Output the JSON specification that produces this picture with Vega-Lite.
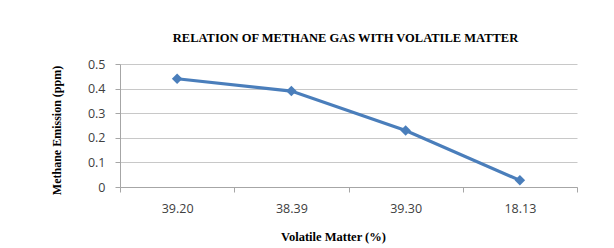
{
  "$schema": "https://vega.github.io/schema/vega-lite/v6.json",
  "width": 457,
  "height": 123,
  "autosize": {"type": "none"},
  "padding": {"left": 120, "top": 64, "right": 37, "bottom": 61},
  "background": "white",
  "title": {
    "text": "RELATION  OF METHANE  GAS WITH VOLATILE  MATTER",
    "font": "Liberation Serif",
    "fontSize": 12.5,
    "fontWeight": "bold",
    "color": "#000000",
    "anchor": "middle",
    "offset": 14,
    "dx": -3
  },
  "config": {
    "view": {"stroke": null},
    "axis": {
      "labelFont": "Open Sans",
      "labelFontSize": 12.5,
      "labelColor": "#404040",
      "titleFont": "Liberation Serif",
      "titleFontWeight": "bold",
      "titleColor": "#000000",
      "domainColor": "#a6a6a6",
      "tickColor": "#a6a6a6",
      "gridColor": "#c8c8c8"
    }
  },
  "data": {
    "values": [
      {"vm": "39.20", "methane": 0.44, "order": 1},
      {"vm": "38.39", "methane": 0.39, "order": 2},
      {"vm": "39.30", "methane": 0.23, "order": 3},
      {"vm": "18.13", "methane": 0.027, "order": 4}
    ]
  },
  "encoding": {
    "x": {
      "field": "vm",
      "type": "nominal",
      "sort": {"field": "order"},
      "scale": {"paddingInner": 0, "paddingOuter": 0},
      "axis": {
        "title": "Volatile Matter (%)",
        "titleFontSize": 12.5,
        "titlePadding": 16,
        "titleX": 213,
        "labelAngle": 0,
        "labelPadding": 10,
        "tickBand": "extent",
        "tickSize": 5,
        "grid": false
      }
    },
    "y": {
      "field": "methane",
      "type": "quantitative",
      "scale": {"domain": [0, 0.5]},
      "axis": {
        "title": "Methane Emission (ppm)",
        "titleFontSize": 12,
        "titlePadding": 24,
        "titleY": 66,
        "values": [0, 0.1, 0.2, 0.3, 0.4, 0.5],
        "format": "~g",
        "tickSize": 5,
        "labelPadding": 10,
        "domain": true
      }
    }
  },
  "layer": [
    {"mark": {"type": "line", "color": "#4a7ebb", "strokeWidth": 3.2}},
    {"mark": {"type": "point", "shape": "diamond", "filled": true, "color": "#4a7ebb", "opacity": 1, "size": 110}}
  ]
}
